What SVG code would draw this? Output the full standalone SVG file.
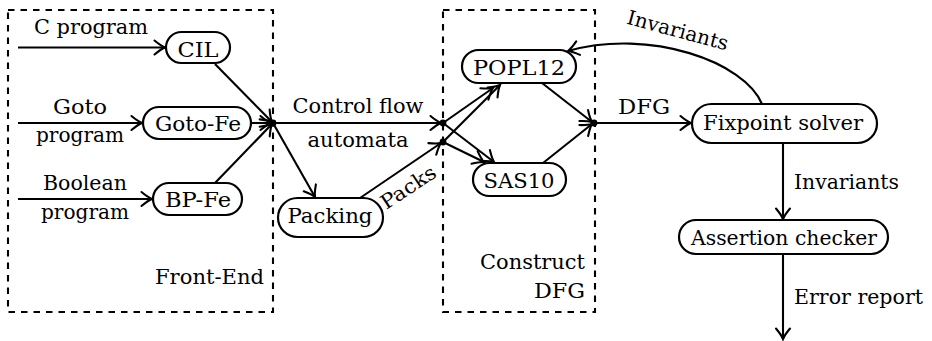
<svg xmlns="http://www.w3.org/2000/svg" width="932" height="341" viewBox="0 0 932 341" font-family="DejaVu Serif, serif" font-size="20">
<defs>
<marker id="arr" markerUnits="userSpaceOnUse" markerWidth="18" markerHeight="18" viewBox="-13 -9 15 18" refX="0" refY="0" orient="auto">
<path d="M-10.5,-7 Q-4,-1.6 0,0 Q-4,1.6 -10.5,7" fill="none" stroke="#000" stroke-width="2.1" stroke-linecap="round"/>
</marker>
</defs>
<style>
.node rect{fill:#fff;stroke:#000;stroke-width:2.2}
.box{fill:none;stroke:#000;stroke-width:2.1;stroke-dasharray:6.5,6}
.edges line,.edges path{fill:none;stroke:#000;stroke-width:2.1;marker-end:url(#arr)}
.dot{fill:#000}
.m{text-anchor:middle}
.e{text-anchor:end}
</style>
<rect class="box" x="8" y="10" width="265" height="302"/>
<rect class="box" x="443" y="10" width="152" height="302"/>
<g class="edges" id="edges">
<line x1="18" y1="47.5" x2="165" y2="47.5"/>
<line x1="18" y1="123" x2="142" y2="123"/>
<line x1="18" y1="199" x2="152" y2="199"/>
<line x1="215" y1="64" x2="272" y2="122"/>
<line x1="251" y1="123" x2="271" y2="123"/>
<line x1="215" y1="183" x2="272" y2="124"/>
<line x1="273" y1="123" x2="441" y2="123"/>
<line x1="273" y1="123" x2="315" y2="197"/>
<line x1="360" y1="198" x2="441" y2="143"/>
<line x1="443" y1="123" x2="493" y2="88"/>
<line x1="443" y1="142" x2="500" y2="85"/>
<line x1="443" y1="123" x2="494" y2="162"/>
<line x1="443" y1="142" x2="484" y2="162"/>
<line x1="542" y1="83" x2="592" y2="122"/>
<line x1="543" y1="163" x2="592" y2="124"/>
<line x1="594" y1="123" x2="691" y2="123"/>
<path d="M762,104 C745,62 650,28 568,51"/>
<line x1="783" y1="143" x2="783" y2="219"/>
<line x1="783" y1="254" x2="783" y2="339"/>
<circle class="dot" cx="273" cy="123" r="3.4"/>
<circle class="dot" cx="443" cy="123" r="3.4"/>
<circle class="dot" cx="443" cy="142" r="3.4"/>
<circle class="dot" cx="594" cy="123" r="3.4"/>
</g>
<g id="labels">
<text x="91" y="34" class="m" textLength="114" lengthAdjust="spacingAndGlyphs">C program</text>
<text x="80" y="114" class="m" textLength="54" lengthAdjust="spacingAndGlyphs">Goto</text>
<text x="80" y="142" class="m" textLength="88" lengthAdjust="spacingAndGlyphs">program</text>
<text x="85" y="190" class="m" textLength="84" lengthAdjust="spacingAndGlyphs">Boolean</text>
<text x="85" y="219" class="m" textLength="88" lengthAdjust="spacingAndGlyphs">program</text>
<text x="264" y="284" class="e" textLength="109" lengthAdjust="spacingAndGlyphs">Front-End</text>
<text x="358" y="113" class="m" textLength="131" lengthAdjust="spacingAndGlyphs">Control flow</text>
<text x="358" y="147" class="m" textLength="101" lengthAdjust="spacingAndGlyphs">automata</text>
<text transform="translate(412,193) rotate(-33.5)" class="m" textLength="62" lengthAdjust="spacingAndGlyphs">Packs</text>
<text x="585" y="269" class="e" textLength="105" lengthAdjust="spacingAndGlyphs">Construct</text>
<text x="585" y="298" class="e" textLength="51" lengthAdjust="spacingAndGlyphs">DFG</text>
<text x="644" y="114" class="m" textLength="52" lengthAdjust="spacingAndGlyphs">DFG</text>
<text transform="translate(676,37) rotate(15)" class="m" textLength="104" lengthAdjust="spacingAndGlyphs">Invariants</text>
<text x="794" y="189" textLength="105" lengthAdjust="spacingAndGlyphs">Invariants</text>
<text x="794" y="304" textLength="129" lengthAdjust="spacingAndGlyphs">Error report</text>
</g>
<g class="node" id="cil"><rect x="166" y="32" width="64" height="31" rx="15.5"/><text x="198" y="57" class="m" textLength="41" lengthAdjust="spacingAndGlyphs">CIL</text></g>
<g class="node" id="gotofe"><rect x="143" y="107" width="108" height="32" rx="16"/><text x="198" y="131" class="m" textLength="86" lengthAdjust="spacingAndGlyphs">Goto-Fe</text></g>
<g class="node" id="bpfe"><rect x="153" y="183" width="89" height="32" rx="16"/><text x="198" y="207" class="m" textLength="66" lengthAdjust="spacingAndGlyphs">BP-Fe</text></g>
<g class="node" id="packing"><rect x="278" y="198" width="105" height="39" rx="19.5"/><text x="330" y="223" class="m" textLength="85" lengthAdjust="spacingAndGlyphs">Packing</text></g>
<g class="node" id="popl12"><rect x="462" y="50" width="114" height="33" rx="16.5"/><text x="519" y="75" class="m" textLength="92" lengthAdjust="spacingAndGlyphs">POPL12</text></g>
<g class="node" id="sas10"><rect x="473" y="163" width="93" height="33" rx="16.5"/><text x="519" y="188" class="m" textLength="71" lengthAdjust="spacingAndGlyphs">SAS10</text></g>
<g class="node" id="fixpoint"><rect x="692" y="104" width="185" height="39" rx="19.5"/><text x="783" y="130" class="m" textLength="160" lengthAdjust="spacingAndGlyphs">Fixpoint solver</text></g>
<g class="node" id="assertion"><rect x="679" y="220" width="209" height="34" rx="17"/><text x="784" y="245" class="m" textLength="186" lengthAdjust="spacingAndGlyphs">Assertion checker</text></g>
</svg>
